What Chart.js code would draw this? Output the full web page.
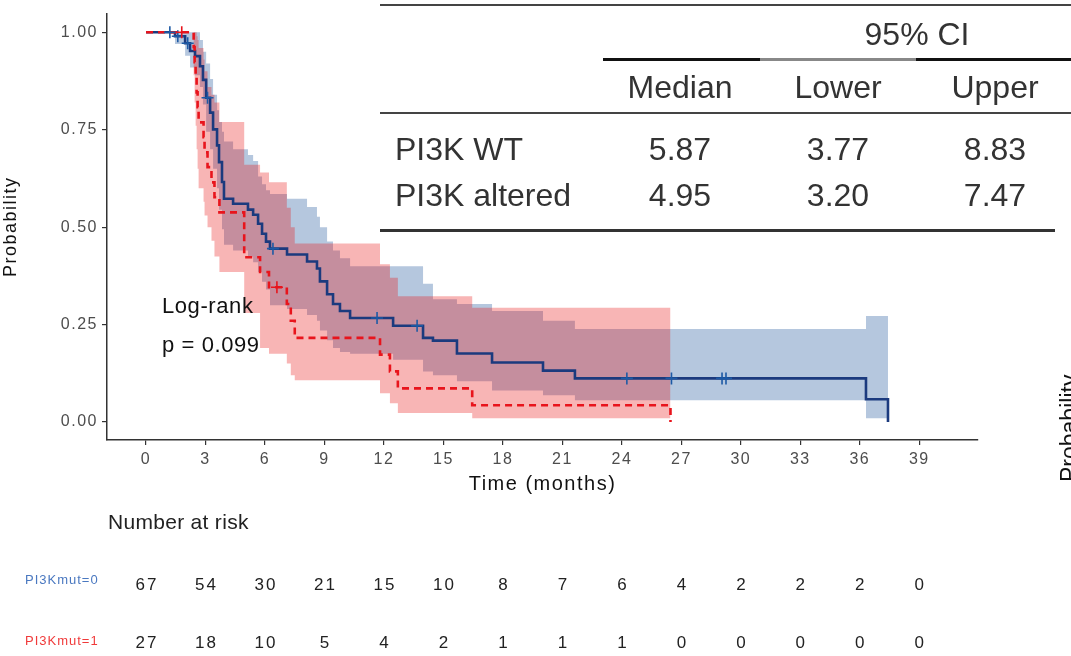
<!DOCTYPE html>
<html>
<head>
<meta charset="utf-8">
<script src="https://cdn.jsdelivr.net/npm/chart.js@4.4.1/dist/chart.umd.min.js"></script>
<style>
html, body { margin: 0; padding: 0; background: #fff; overflow: hidden; }
</style>
</head>
<body>
<canvas id="chart" width="1071" height="656"></canvas>
<script>
// KM curve, PI3K WT (PI3Kmut=0)
const wtTimes = [0, 1.46, 1.97, 2.22, 2.47, 2.72, 2.87, 3.03, 3.23, 3.38, 3.58, 3.68, 3.83, 3.93, 4.39, 5.14, 5.40, 5.65, 5.85, 6.05, 6.25, 7.11, 8.12, 8.62, 8.77, 9.13, 9.43, 9.78, 10.29, 12.46, 13.97, 14.47, 15.68, 17.45, 20.02, 21.63, 36.31, 37.42];
const wtSurv = [1, 0.99, 0.972, 0.952, 0.939, 0.913, 0.878, 0.832, 0.794, 0.751, 0.710, 0.667, 0.616, 0.573, 0.560, 0.545, 0.532, 0.509, 0.483, 0.463, 0.445, 0.430, 0.412, 0.394, 0.361, 0.328, 0.303, 0.285, 0.267, 0.247, 0.216, 0.209, 0.176, 0.153, 0.132, 0.112, 0.0585, 0];
const wtUpper = [1, 1, 1, 1, 1, 0.98, 0.95, 0.92, 0.88, 0.84, 0.80, 0.77, 0.745, 0.72, 0.70, 0.685, 0.67, 0.63, 0.61, 0.595, 0.585, 0.573, 0.552, 0.527, 0.50, 0.463, 0.44, 0.42, 0.40, 0.40, 0.355, 0.315, 0.303, 0.285, 0.26, 0.239, 0.272, 0.272];
const wtLower = [1, 0.97, 0.94, 0.91, 0.89, 0.86, 0.815, 0.745, 0.70, 0.65, 0.60, 0.545, 0.495, 0.455, 0.44, 0.425, 0.41, 0.385, 0.36, 0.34, 0.30, 0.29, 0.275, 0.26, 0.235, 0.21, 0.19, 0.18, 0.175, 0.16, 0.13, 0.12, 0.105, 0.081, 0.069, 0.056, 0.01, 0.01];
const wtCensor = [1.2, 1.6, 2.1, 3.1, 6.4, 11.65, 13.67, 24.25, 26.5, 29.05, 29.25];

// KM curve, PI3K altered (PI3Kmut=1)
const altTimes = [0, 2.40, 2.45, 2.50, 2.55, 2.60, 2.65, 2.90, 2.95, 3.10, 3.30, 3.45, 3.70, 4.95, 5.75, 6.20, 7.10, 7.30, 7.50, 11.80, 12.30, 12.70, 16.45, 26.45];
const altSurv = [1, 0.962, 0.923, 0.885, 0.846, 0.808, 0.769, 0.731, 0.692, 0.654, 0.615, 0.577, 0.538, 0.423, 0.385, 0.346, 0.303, 0.260, 0.216, 0.173, 0.130, 0.0865, 0.043, 0];
const altUpper = [1, 1, 1, 1, 0.99, 0.98, 0.96, 0.93, 0.90, 0.86, 0.84, 0.82, 0.77, 0.66, 0.64, 0.615, 0.55, 0.50, 0.458, 0.405, 0.37, 0.323, 0.293, 0.293];
const altLower = [1, 0.89, 0.82, 0.76, 0.70, 0.65, 0.60, 0.565, 0.53, 0.50, 0.465, 0.425, 0.385, 0.28, 0.19, 0.175, 0.15, 0.12, 0.107, 0.074, 0.048, 0.023, 0.01, 0.01];
const altCensor = [1.8, 6.6];

// axes and risk table
const xTicks = [0, 3, 6, 9, 12, 15, 18, 21, 24, 27, 30, 33, 36, 39];
const yTicks = [0, 0.25, 0.5, 0.75, 1];
const wtRisk = [67, 54, 30, 21, 15, 10, 8, 7, 6, 4, 2, 2, 2, 0];
const altRisk = [27, 18, 10, 5, 4, 2, 1, 1, 1, 0, 0, 0, 0, 0];

// median table
const tableGroups = ['PI3K WT', 'PI3K altered'];
const tableMedian = ['5.87', '4.95'];
const tableLower = ['3.77', '3.20'];
const tableUpper = ['8.83', '7.47'];

const FONT = '"Liberation Sans", Arial, sans-serif';
const BLUE = '#1b3a7e';
const RED = '#e8141c';

function pts(xs, ys) {
    return xs.map((x, i) => ({ x: x, y: ys[i] }));
}
function stepAt(xs, ys, t) {
    let v = ys[0];
    for (let i = 0; i < xs.length; i++) if (xs[i] <= t) v = ys[i];
    return v;
}

const extras = {
    id: 'extras',
    beforeDraw(chart) {
        // the reference text is set rather loosely
        chart.ctx.letterSpacing = '1.5px';
    },
    afterDraw(chart) {
        const ctx = chart.ctx;
        const xs = chart.scales.x;
        const ys = chart.scales.y;
        ctx.save();

        // log-rank annotation
        ctx.fillStyle = '#111';
        ctx.font = '22px ' + FONT;
        ctx.letterSpacing = '0.6px';
        ctx.textAlign = 'left';
        ctx.textBaseline = 'middle';
        ctx.fillText('Log-rank', xs.getPixelForValue(0.8), ys.getPixelForValue(0.295));
        ctx.fillText('p = 0.099', xs.getPixelForValue(0.8), ys.getPixelForValue(0.196));

        // median table
        ctx.fillStyle = '#444';
        ctx.fillRect(380, 4, 691, 2);
        ctx.fillStyle = '#111';
        ctx.fillRect(603, 58, 157, 3);
        ctx.fillRect(916, 58, 155, 3);
        ctx.fillStyle = '#888';
        ctx.fillRect(760, 58, 156, 3);
        ctx.fillStyle = '#444';
        ctx.fillRect(380, 112, 691, 2);
        ctx.fillStyle = '#333';
        ctx.fillRect(380, 229, 675, 3);

        ctx.fillStyle = '#333';
        ctx.font = '32px ' + FONT;
        ctx.letterSpacing = '0px';
        ctx.textAlign = 'center';
        ctx.fillText('95% CI', 917, 36);
        const cols = [680, 838, 995];
        ['Median', 'Lower', 'Upper'].forEach((h, i) => ctx.fillText(h, cols[i], 89));
        tableGroups.forEach((g, r) => {
            const yy = 151 + r * 46;
            ctx.textAlign = 'left';
            ctx.fillText(g, 395, yy);
            ctx.textAlign = 'center';
            ctx.fillText(tableMedian[r], cols[0], yy);
            ctx.fillText(tableLower[r], cols[1], yy);
            ctx.fillText(tableUpper[r], cols[2], yy);
        });

        // number at risk
        ctx.fillStyle = '#222';
        ctx.font = '21px ' + FONT;
        ctx.letterSpacing = '0.3px';
        ctx.textAlign = 'left';
        ctx.fillText('Number at risk', 108, 523);
        ctx.font = '13px ' + FONT;
        ctx.letterSpacing = '1px';
        ctx.fillStyle = '#4a78c0';
        ctx.fillText('PI3Kmut=0', 25, 580);
        ctx.fillStyle = '#f03a3a';
        ctx.fillText('PI3Kmut=1', 25, 641);
        ctx.fillStyle = '#222';
        ctx.font = '17px ' + FONT;
        ctx.letterSpacing = '2px';
        ctx.textAlign = 'center';
        xTicks.forEach((t, i) => {
            const px = xs.getPixelForValue(t) + 1;
            ctx.fillText(String(wtRisk[i]), px, 585);
            ctx.fillText(String(altRisk[i]), px, 643);
        });

        // cut-off axis title of the neighbouring panel
        ctx.translate(1077, 482);
        ctx.rotate(-Math.PI / 2);
        ctx.textAlign = 'left';
        ctx.textBaseline = 'alphabetic';
        ctx.font = '23px ' + FONT;
        ctx.letterSpacing = '0px';
        ctx.fillStyle = '#111';
        ctx.fillText('Probability', 0, 0);
        ctx.restore();
    }
};

const bandBase = { pointRadius: 0, borderWidth: 0, borderColor: 'transparent', stepped: 'before' };

new Chart(document.getElementById('chart').getContext('2d'), {
    type: 'line',
    data: {
        datasets: [
            Object.assign({ data: pts(wtTimes, wtLower), fill: false, order: 8 }, bandBase),
            Object.assign({ data: pts(wtTimes, wtUpper), fill: 0, backgroundColor: 'rgba(10,70,145,0.3)', order: 7 }, bandBase),
            Object.assign({ data: pts(altTimes, altLower), fill: false, order: 6 }, bandBase),
            Object.assign({ data: pts(altTimes, altUpper), fill: 2, backgroundColor: 'rgba(232,10,10,0.3)', order: 5 }, bandBase),
            {
                data: pts(wtTimes, wtSurv),
                stepped: 'before', borderColor: BLUE, borderWidth: 2.6, pointRadius: 0, fill: false, order: 4
            },
            {
                data: pts(altTimes, altSurv),
                stepped: 'before', borderColor: RED, borderWidth: 2.6, borderDash: [7, 5], pointRadius: 0, fill: false, order: 3
            },
            {
                data: wtCensor.map(t => ({ x: t, y: stepAt(wtTimes, wtSurv, t) })),
                showLine: false, pointStyle: 'cross', pointRadius: 6, pointBorderWidth: 1.6,
                pointBorderColor: '#1d5aa5', order: 2
            },
            {
                data: altCensor.map(t => ({ x: t, y: stepAt(altTimes, altSurv, t) })),
                showLine: false, pointStyle: 'cross', pointRadius: 6, pointBorderWidth: 1.6,
                pointBorderColor: RED, order: 1
            }
        ]
    },
    options: {
        responsive: false,
        animation: false,
        layout: { padding: { left: 0, top: 10, right: 93, bottom: 160 } },
        plugins: { legend: { display: false }, tooltip: { enabled: false } },
        scales: {
            x: {
                type: 'linear',
                min: -1.97,
                max: 41.96,
                afterFit: s => { s.height = 56; },
                afterBuildTicks: s => { s.ticks = xTicks.map(v => ({ value: v })); },
                border: { display: true, color: '#333', width: 1.5 },
                grid: { drawOnChartArea: false, drawTicks: true, tickLength: 5, color: '#333', lineWidth: 1.2 },
                ticks: { padding: 5, color: '#4d4d4d', font: { family: FONT, size: 16 }, callback: v => String(v), maxRotation: 0 },
                title: { display: true, text: 'Time (months)', color: '#111', font: { family: FONT, size: 20 }, padding: { top: 0, bottom: 0 } }
            },
            y: {
                type: 'linear',
                min: -0.046,
                max: 1.048,
                afterFit: s => { s.width = 107; },
                afterBuildTicks: s => { s.ticks = yTicks.map(v => ({ value: v })); },
                border: { display: true, color: '#333', width: 1.5 },
                grid: { drawOnChartArea: false, drawTicks: true, tickLength: 5, color: '#333', lineWidth: 1.2 },
                ticks: { padding: 4, color: '#4d4d4d', font: { family: FONT, size: 16 }, callback: v => v.toFixed(2) },
                title: { display: true, text: 'Probability', color: '#111', font: { family: FONT, size: 18 }, padding: { top: 0, bottom: 0 } }
            }
        }
    },
    plugins: [extras]
});
</script>
</body>
</html>
